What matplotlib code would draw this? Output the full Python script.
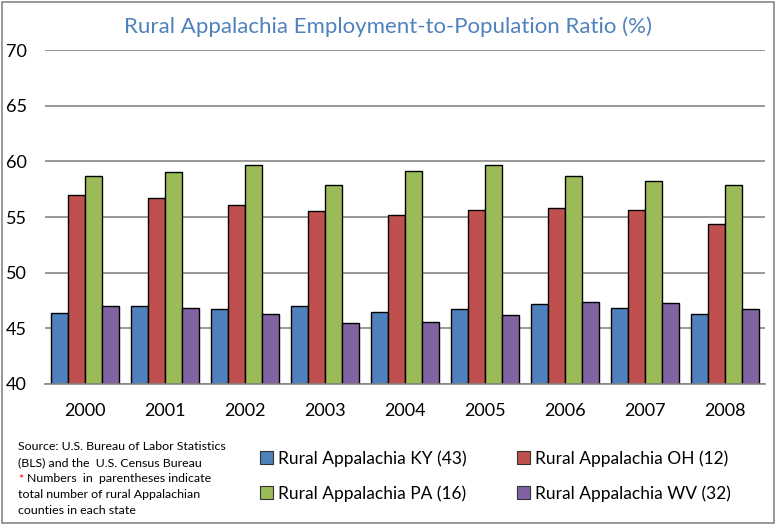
import numpy as np
import matplotlib
matplotlib.use("Agg")
import matplotlib.pyplot as plt
from matplotlib.patches import Patch, Rectangle

# values
years = ["2000", "2001", "2002", "2003", "2004", "2005", "2006", "2007", "2008"]
ky = [46.4, 47.0, 46.7, 47.0, 46.5, 46.7, 47.2, 46.8, 46.3]
oh = [57.0, 56.7, 56.1, 55.5, 55.2, 55.6, 55.8, 55.6, 54.4]
pa = [58.7, 59.0, 59.7, 57.9, 59.1, 59.7, 58.7, 58.2, 57.9]
wv = [47.0, 46.8, 46.3, 45.5, 45.6, 46.2, 47.4, 47.3, 46.7]
labels = ["Rural Appalachia KY (43)", "Rural Appalachia OH (12)",
          "Rural Appalachia PA (16)", "Rural Appalachia WV (32)"]
colors = ["#4F81BD", "#C0504D", "#9BBB59", "#8064A2"]
yticks = [40, 45, 50, 55, 60, 65, 70]

plt.rcParams["font.family"] = ["Lato", "DejaVu Sans"]

W, H = 777, 525
fig = plt.figure(figsize=(W / 100, H / 100), dpi=100)
ax = fig.add_axes([45 / W, 1 - 384 / H, 720 / W, 334 / H])

x = np.arange(len(years))
bw = 0.211
for i, (vals, c) in enumerate(zip([ky, oh, pa, wv], colors)):
    ax.bar(x + (i - 1.5) * bw, np.array(vals) - 40, bw, bottom=40,
           color=c, edgecolor="black", linewidth=1.0, zorder=3)

ax.set_xlim(-0.5, len(years) - 0.5)
ax.set_ylim(40, 70)
ax.set_yticks(yticks)
ax.set_yticklabels([str(t) for t in yticks], fontsize=13)
ax.set_xticks(x)
ax.set_xticklabels(years, fontsize=13)
ax.tick_params(length=0)
ax.tick_params(axis="y", pad=13)
ax.tick_params(axis="x", pad=14)
ax.yaxis.grid(True, color="#868686", linewidth=1.2, zorder=0)
for s in ["top", "right", "left"]:
    ax.spines[s].set_visible(False)
ax.spines["bottom"].set_color("#868686")
ax.spines["bottom"].set_linewidth(1.2)
ax.spines["bottom"].set_zorder(4)

fig.text(388 / W, 1 - 27 / H,
         "Rural Appalachia Employment-to-Population Ratio (%)",
         ha="center", va="center", fontsize=16, color="#4F81BD")

handles = [Patch(facecolor=c, edgecolor="#333333", linewidth=0.8)
           for c in colors]
order = [0, 2, 1, 3]
fig.legend([handles[i] for i in order], [labels[i] for i in order],
           ncol=2, frameon=False, fontsize=12.5,
           loc="center left", bbox_to_anchor=(253 / W, 1 - 476 / H),
           handlelength=0.75, handleheight=0.75, handletextpad=0.3,
           columnspacing=2.9, labelspacing=1.05, borderaxespad=0)

src = ["Source: U.S. Bureau of Labor Statistics",
       "(BLS) and the  U.S. Census Bureau",
       None,
       "total number of rural Appalachian",
       "counties in each state"]
ys = [447, 463, 479, 495, 511]
for t, yy in zip(src, ys):
    if t:
        fig.text(18 / W, 1 - yy / H, t, fontsize=8.9, va="center")
fig.text(18 / W, 1 - 479 / H, "*", fontsize=8.9, va="center", color="red")
fig.text(27 / W, 1 - 479 / H, "Numbers  in  parentheses indicate",
         fontsize=8.9, va="center")

fig.patches.append(Rectangle((2 / W, 2 / H), 772 / W, 521 / H,
                             transform=fig.transFigure, fill=False,
                             edgecolor="#868686", linewidth=1.2))

fig.savefig("out.png", dpi=100)
